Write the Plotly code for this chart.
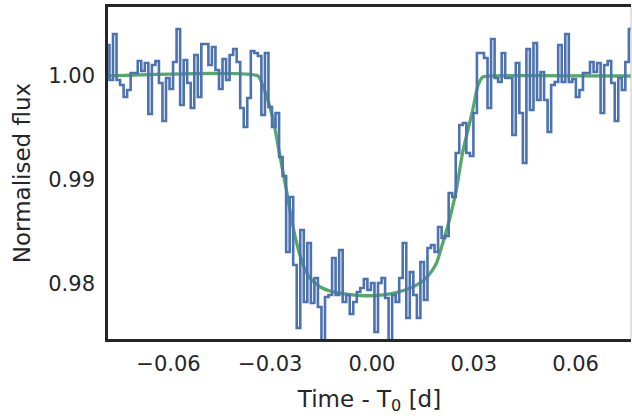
import numpy as np
import plotly.graph_objects as go

# binned, phase-folded light curve (1.5 min bins)
BIN_START = -0.07792
BIN_WIDTH = 0.0010417

flux_binned = [
    1.00298, 0.99962, 1.00404, 0.99962, 0.99913, 0.99798, 0.99865, 1.00029, 1.00029, 1.00144,
    1.00048, 1.00125, 0.99635, 1.00106, 1.00144, 0.99933, 0.99567, 0.99981, 0.99875, 1.00135,
    1.00452, 0.99721, 1.00154, 0.99933, 0.99692, 1.00202, 0.99798, 1.00308, 1.00308, 1.00106,
    1.00279, 1.00058, 0.99875, 1.00163, 0.99962, 1.00202, 1.00260, 1.00135, 0.99692, 0.99510,
    0.99788, 1.00240, 1.00221, 1.00192, 0.99625, 1.00221, 0.99702, 0.99510, 0.99644, 0.99221,
    0.99038, 0.98308, 0.98837, 0.98183, 0.97577, 0.98519, 0.97827, 0.98394, 0.97817, 0.98058,
    0.97779, 0.97413, 0.97875, 0.97894, 0.98250, 0.97894, 0.98327, 0.97827, 0.97894, 0.97712,
    0.97827, 0.97923, 0.97962, 0.98048, 0.97942, 0.98010, 0.97538, 0.98010, 0.98058, 0.97865,
    0.97413, 0.97894, 0.97827, 0.98058, 0.98394, 0.97673, 0.98115, 0.97894, 0.97673, 0.98212,
    0.97846, 0.98346, 0.98375, 0.98308, 0.98548, 0.98442, 0.98462, 0.98875, 0.98837, 0.99260,
    0.99529, 0.99548, 0.99260, 0.99231, 0.99644, 1.00221, 1.00221, 1.00173, 0.99692, 1.00356,
    0.99981, 0.99942, 1.00221, 0.99981, 0.99981, 0.99433, 1.00125, 0.99644, 0.99163, 1.00260,
    0.99673, 1.00317, 0.99769, 1.00038, 0.99769, 0.99462, 0.99913, 0.99942, 1.00298, 0.99942,
    1.00404, 0.99942, 0.99971, 0.99798, 0.99865, 1.00029, 1.00029, 1.00135, 1.00038, 1.00125,
    0.99644, 1.00106, 1.00144, 0.99933, 0.99567, 0.99981, 0.99865, 1.00135, 1.00452, 0.99740,
]
time_binned = BIN_START + BIN_WIDTH * np.arange(len(flux_binned))

# transit model curve
model_time = [
    -0.0782, -0.0336, -0.0324, -0.0310, -0.0291, -0.0273, -0.0254, -0.0229, -0.0204,
    -0.0183, -0.0153, -0.0124, -0.0080, -0.0035, 0.0009, 0.0053, 0.0097, 0.0142,
    0.0165, 0.0189, 0.0206, 0.0228, 0.0248, 0.0267, 0.0297, 0.0312, 0.0326, 0.0348, 0.0767,
]
model_flux = [
    1.0, 1.0, 0.99923, 0.99798, 0.99577, 0.99260, 0.98933, 0.98490, 0.98192,
    0.98058, 0.97971, 0.97933, 0.97904, 0.97889, 0.97889, 0.97904, 0.97942, 0.98010,
    0.98077, 0.98192, 0.98365, 0.98615, 0.98894, 0.99260, 0.99673, 0.99904, 0.99990, 1.0, 1.0,
]

x_ticks = [-0.06, -0.03, 0.0, 0.03, 0.06]
y_ticks = [0.98, 0.99, 1.00]

INK = "#262626"

fig = go.Figure()

fig.add_trace(go.Scatter(
    x=model_time, y=model_flux, mode="lines",
    line=dict(color="#55A868", width=3.3, shape="spline", smoothing=0.6),
    name="Model", hoverinfo="skip",
))
fig.add_trace(go.Scatter(
    x=time_binned, y=flux_binned, mode="lines",
    line=dict(color="#4C72B0", width=2.6, shape="hvh"),
    name="Data",
))

fig.update_layout(
    width=632, height=416,
    margin=dict(l=108, r=1, t=7, b=77),
    paper_bgcolor="white", plot_bgcolor="white",
    showlegend=False,
    font=dict(family="DejaVu Sans", size=21, color=INK),
)
fig.update_xaxes(
    range=[-0.07783, 0.07636], automargin=False,
    tickvals=x_ticks, tickformat=".2f",
    showgrid=False, zeroline=False,
    showline=True, linecolor=INK, linewidth=2.6, mirror=True,
    ticks="outside", ticklen=4, tickcolor="rgba(0,0,0,0)",
    title=dict(text="Time - T<sub>0</sub> [d]", font=dict(size=23), standoff=16),
)
fig.update_yaxes(
    range=[0.974712, 1.006635], automargin=False,
    tickvals=y_ticks, tickformat=".2f",
    showgrid=False, zeroline=False,
    showline=True, linecolor=INK, linewidth=2.6,
    ticks="outside", ticklen=6, tickcolor="rgba(0,0,0,0)",
    title=dict(text="Normalised flux", font=dict(size=23), standoff=12),
)
# faint right edge of the (cropped) frame
fig.add_shape(type="line", xref="paper", yref="paper", x0=1, x1=1, y0=0, y1=1,
              line=dict(color="#c4c4c4", width=1))

# page has a default body margin; drop it so the figure sits at the window corner
fig.write_html("out.html", config={"displayModeBar": False},
               post_script="document.body.style.margin='0';")
